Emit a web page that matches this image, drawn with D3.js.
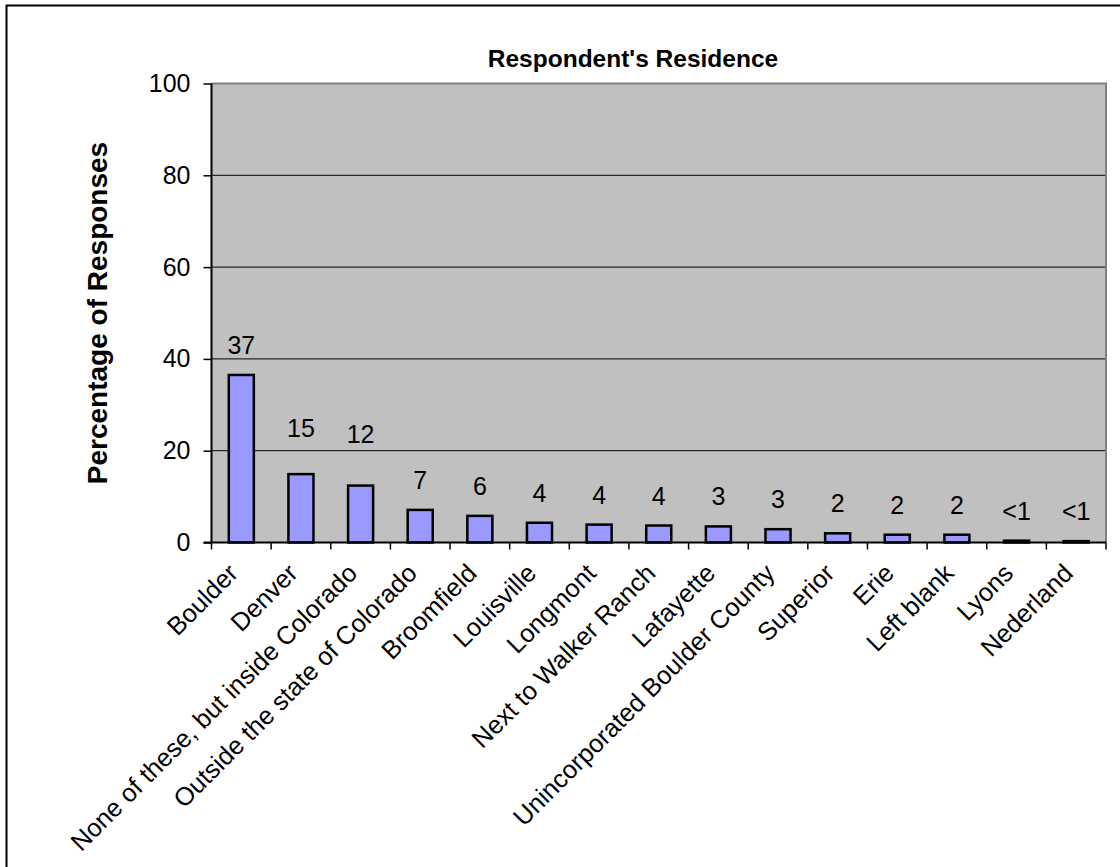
<!DOCTYPE html>
<html>
<head>
<meta charset="utf-8">
<script src="https://cdn.jsdelivr.net/npm/d3@7"></script>
<style>
  html, body { margin: 0; padding: 0; background: #fff; }
  svg { display: block; font-family: "Liberation Sans", Arial, sans-serif; }
</style>
</head>
<body>
<svg id="chart" width="1120" height="867"></svg>
<script>
// ---- data ----
const chartTitle = "Respondent's Residence";
const yAxisTitle = "Percentage of Responses";
const categories = ["Boulder", "Denver", "None of these, but inside Colorado", "Outside the state of Colorado",
  "Broomfield", "Louisville", "Longmont", "Next to Walker Ranch", "Lafayette", "Unincorporated Boulder County",
  "Superior", "Erie", "Left blank", "Lyons", "Nederland"];
const values = [36.5, 14.9, 12.4, 7.1, 5.8, 4.3, 3.9, 3.7, 3.5, 2.9, 2.0, 1.7, 1.7, 0.4, 0.3];
const valueLabels = ["37", "15", "12", "7", "6", "4", "4", "4", "3", "3", "2", "2", "2", "<1", "<1"];
const yTicks = [0, 20, 40, 60, 80, 100];

// ---- layout ----
const plot = { left: 211.5, right: 1106, top: 83.5, bottom: 542.5 };
const svg = d3.select("#chart");

// outer chart frame (only top and left edges visible)
svg.append("rect").attr("x", 6.5).attr("y", 5.5).attr("width", 1300).attr("height", 1000)
  .attr("fill", "#fff").attr("stroke", "#000").attr("stroke-width", 2);

const y = d3.scaleLinear().domain([0, 100]).range([plot.bottom, plot.top]);
const x = d3.scaleBand().domain(categories).range([plot.left, plot.right]).padding(0);
const barW = x.bandwidth() * 0.42;

// plot background
svg.append("rect").attr("x", plot.left).attr("y", plot.top)
  .attr("width", plot.right - plot.left).attr("height", plot.bottom - plot.top)
  .attr("fill", "#C0C0C0");

// gridlines
svg.append("g").selectAll("line").data(yTicks.filter(t => t > 0 && t < 100)).join("line")
  .attr("x1", plot.left).attr("x2", plot.right)
  .attr("y1", d => y(d)).attr("y2", d => y(d))
  .attr("stroke", "#000").attr("stroke-width", 1);

// plot border top/right (gray)
svg.append("path")
  .attr("d", `M${plot.left},${plot.top}H${plot.right}V${plot.bottom}`)
  .attr("fill", "none").attr("stroke", "#808080").attr("stroke-width", 2);

// bars
svg.append("g").selectAll("rect").data(values).join("rect")
  .attr("x", (d, i) => x(categories[i]) + (x.bandwidth() - barW) / 2)
  .attr("y", d => y(d))
  .attr("width", barW)
  .attr("height", d => y(0) - y(d))
  .attr("fill", "#9999FF").attr("stroke", "#000").attr("stroke-width", 2.5);

// value labels
const labelLift = { 1: 16, 2: 22 }; // manual nudges seen in the original
svg.append("g").selectAll("text").data(values).join("text")
  .attr("x", (d, i) => x(categories[i]) + x.bandwidth() / 2)
  .attr("y", (d, i) => y(d) - 21 - (labelLift[i] || 0))
  .attr("text-anchor", "middle")
  .attr("font-size", 25).attr("fill", "#000")
  .text((d, i) => valueLabels[i]);

// y axis
const yAxis = svg.append("g").attr("transform", `translate(${plot.left},0)`)
  .call(d3.axisLeft(y).tickValues(yTicks).tickSize(8).tickPadding(13).tickFormat(d3.format("d")));
yAxis.select(".domain").attr("stroke", "#000").attr("stroke-width", 2).attr("d", `M0,${plot.top}V${plot.bottom}`);
yAxis.selectAll(".tick line").attr("stroke", "#000").attr("stroke-width", 1.5);
yAxis.selectAll(".tick text").attr("font-size", 25).attr("font-family", "Liberation Sans, Arial, sans-serif").attr("fill", "#000");

// x axis
const xAxis = svg.append("g").attr("transform", `translate(0,${plot.bottom})`)
  .call(d3.axisBottom(x).tickSize(0).tickPadding(0));
xAxis.select(".domain").attr("stroke", "#000").attr("stroke-width", 2).attr("d", `M${plot.left - 8},0H${plot.right}`);
// category boundary ticks
const bounds = categories.map(c => x(c)).concat([x(categories[categories.length - 1]) + x.step()]);
xAxis.append("g").selectAll("line").data(bounds).join("line")
  .attr("x1", d => d).attr("x2", d => d).attr("y1", 0).attr("y2", 7)
  .attr("stroke", "#000").attr("stroke-width", 1.5);
xAxis.selectAll(".tick text")
  .attr("font-size", 25.5).attr("font-family", "Liberation Sans, Arial, sans-serif").attr("fill", "#000")
  .attr("text-anchor", "end")
  .attr("dy", "0.35em")
  .attr("transform", "translate(-8,26) rotate(-45)");

// title
svg.append("text").attr("x", 633).attr("y", 67).attr("text-anchor", "middle")
  .attr("font-size", 24.5).attr("font-weight", "bold").text(chartTitle);

// y axis title
svg.append("text").attr("transform", `translate(107,${(plot.top + plot.bottom) / 2}) rotate(-90)`)
  .attr("text-anchor", "middle").attr("font-size", 28).attr("font-weight", "bold").text(yAxisTitle);
</script>
</body>
</html>
